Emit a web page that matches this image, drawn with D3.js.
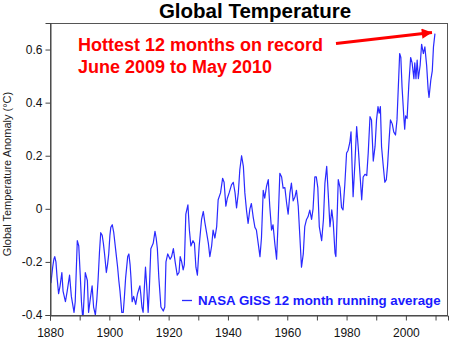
<!DOCTYPE html>
<html><head><meta charset="utf-8">
<script src="https://cdn.jsdelivr.net/npm/d3@7"></script>
<style>body{margin:0;background:#fff}svg{display:block}text{font-family:"Liberation Sans",Arial,sans-serif}</style>
</head><body><svg id="c" width="450" height="340"></svg>
<script>
const years = [1880.3,1880.9,1881.3,1881.6,1882.0,1882.4,1882.9,1883.4,1884.0,1884.4,1885.2,1885.8,1886.6,1887.2,1888.1,1888.5,1889.2,1889.7,1890.2,1890.6,1891.1,1891.5,1891.9,1892.6,1893.0,1893.7,1894.2,1894.7,1895.3,1895.8,1896.2,1896.7,1897.1,1897.6,1898.0,1898.4,1899.0,1899.4,1899.8,1900.2,1900.5,1901.0,1901.5,1901.9,1902.4,1902.8,1903.2,1903.6,1904.2,1904.7,1905.1,1905.5,1906.2,1906.6,1907.0,1907.3,1907.7,1908.2,1908.9,1909.5,1910.3,1910.6,1911.0,1911.4,1911.8,1912.2,1912.6,1913.1,1913.5,1914.0,1914.8,1915.4,1915.8,1916.2,1916.7,1917.4,1918.2,1918.7,1919.1,1919.7,1920.5,1921.0,1921.6,1922.2,1922.9,1923.5,1923.9,1924.4,1924.9,1925.3,1925.8,1926.5,1927.0,1927.5,1928.2,1928.7,1929.2,1929.7,1930.3,1931.1,1931.7,1932.2,1932.8,1933.4,1933.9,1934.5,1935.0,1935.6,1936.2,1936.7,1937.5,1938.2,1938.7,1939.3,1939.8,1940.4,1941.2,1941.8,1942.4,1942.9,1943.5,1944.0,1944.6,1945.2,1945.7,1946.3,1946.8,1947.4,1947.9,1948.5,1949.1,1949.6,1950.2,1950.8,1951.3,1951.9,1952.4,1953.0,1953.6,1954.1,1954.7,1955.2,1955.8,1956.4,1956.9,1957.5,1958.1,1958.6,1959.2,1959.8,1960.3,1960.9,1961.4,1962.0,1962.6,1963.1,1963.7,1964.3,1964.8,1965.4,1965.9,1966.5,1967.0,1967.6,1968.2,1968.7,1969.3,1969.8,1970.3,1970.8,1971.6,1972.2,1972.7,1973.3,1973.8,1974.4,1975.0,1975.5,1976.1,1976.4,1977.2,1977.8,1978.3,1978.8,1979.4,1980.0,1980.5,1981.1,1981.5,1981.9,1982.2,1982.8,1983.4,1984.0,1984.5,1985.1,1985.6,1986.2,1986.8,1987.3,1987.9,1988.4,1989.0,1989.6,1990.1,1990.6,1991.0,1991.4,1991.8,1992.3,1992.9,1993.4,1993.8,1994.4,1994.8,1995.4,1995.9,1996.5,1997.0,1997.6,1997.9,1998.3,1998.7,1999.3,1999.6,1999.9,2000.4,2001.0,2001.6,2002.1,2002.7,2003.0,2003.4,2003.8,2004.2,2004.8,2005.3,2005.9,2006.4,2007.0,2007.5,2007.8,2008.4,2008.9,2009.3,2009.8];
const anomaly = [-0.28,-0.22,-0.19,-0.18,-0.20,-0.26,-0.32,-0.29,-0.24,-0.31,-0.35,-0.31,-0.25,-0.33,-0.39,-0.35,-0.12,-0.14,-0.25,-0.35,-0.42,-0.33,-0.24,-0.27,-0.39,-0.33,-0.29,-0.37,-0.40,-0.34,-0.27,-0.16,-0.09,-0.10,-0.13,-0.17,-0.24,-0.21,-0.17,-0.10,-0.07,-0.06,-0.09,-0.13,-0.18,-0.22,-0.27,-0.31,-0.39,-0.39,-0.33,-0.26,-0.18,-0.17,-0.21,-0.26,-0.35,-0.33,-0.36,-0.32,-0.29,-0.32,-0.37,-0.39,-0.30,-0.22,-0.29,-0.39,-0.30,-0.15,-0.13,-0.085,-0.11,-0.15,-0.26,-0.37,-0.385,-0.37,-0.20,-0.17,-0.19,-0.18,-0.15,-0.20,-0.25,-0.24,-0.18,-0.20,-0.23,-0.21,-0.02,0.015,-0.08,-0.14,-0.12,-0.13,-0.22,-0.25,-0.14,-0.04,-0.01,-0.05,-0.09,-0.13,-0.18,-0.14,-0.08,-0.11,-0.067,0.034,0.06,0.115,0.10,0.01,0.04,0.06,0.09,0.10,0.06,0.003,0.06,0.147,0.20,0.16,0.06,-0.01,-0.055,0.0,0.02,-0.03,-0.07,-0.08,-0.13,-0.18,-0.11,0.07,0.04,0.084,0.11,0.01,-0.08,-0.06,-0.13,-0.19,-0.054,0.134,0.12,0.078,0.08,0.02,-0.02,0.06,0.097,0.03,0.045,0.07,0.01,-0.115,-0.22,-0.17,-0.067,-0.04,-0.03,-0.005,-0.04,0.0,0.12,0.12,0.08,-0.067,-0.12,-0.04,0.097,0.16,0.06,-0.067,-0.004,-0.05,-0.167,-0.18,0.11,0.08,0.005,-0.004,0.09,0.21,0.22,0.25,0.29,0.147,0.046,0.17,0.31,0.22,0.134,0.034,0.12,0.13,0.125,0.21,0.347,0.335,0.18,0.235,0.335,0.385,0.36,0.385,0.234,0.17,0.10,0.11,0.16,0.27,0.335,0.32,0.29,0.278,0.335,0.50,0.585,0.57,0.46,0.347,0.30,0.35,0.34,0.47,0.57,0.55,0.49,0.55,0.49,0.56,0.49,0.54,0.62,0.585,0.61,0.54,0.45,0.42,0.485,0.52,0.61,0.66];
const yTicks = [-0.4,-0.2,0,0.2,0.4,0.6];
const yTickLabels = ["-0.4","-0.2","0","0.2","0.4","0.6"];
const xTicks = [1880,1890,1900,1910,1920,1930,1940,1950,1960,1970,1980,1990,2000,2010];
const xTickLabels = ["1880","","1900","","1920","","1940","","1960","","1980","","2000",""];
const titleText = "Global Temperature";
const yLabel = "Global Temperature Anomaly (\u00B0C)";
const noteLines = ["Hottest 12 months on record","June 2009 to May 2010"];
const legendText = "NASA GISS 12 month running average";

const svg = d3.select("#c");
const L=50,R=448,T=23,B=315;
const x = d3.scaleLinear().domain([1880,2014.2]).range([L,R]);
const y = d3.scaleLinear().domain([-0.4,0.7]).range([B,T]);

svg.append("clipPath").attr("id","clip").append("rect").attr("x",L).attr("y",T).attr("width",R-L).attr("height",B-T);

const data = years.map((yr,i)=>({yr,v:anomaly[i]}));
svg.append("path").datum(data).attr("clip-path","url(#clip)")
  .attr("fill","none").attr("stroke","#2a2aff").attr("stroke-width",1.2).attr("stroke-linejoin","round")
  .attr("d",d3.line().x(d=>x(d.yr)).y(d=>y(d.v)));

// frame
svg.append("rect").attr("x",L+0.5).attr("y",T+0.5).attr("width",R-L-1).attr("height",B-T)
  .attr("fill","none").attr("stroke","#555").attr("stroke-width",1);

const yAxis = svg.append("g").attr("transform",`translate(${L+0.5},0)`)
  .call(d3.axisLeft(y).tickValues(yTicks).tickSize(5).tickPadding(3).tickFormat((d,i)=>yTickLabels[i]));
const xAxis = svg.append("g").attr("transform",`translate(0,${B+0.5})`)
  .call(d3.axisBottom(x).tickValues(xTicks).tickSize(5).tickPadding(8).tickFormat((d,i)=>xTickLabels[i]));
[yAxis,xAxis].forEach(g=>{
  g.select(".domain").attr("stroke","#444");
  g.selectAll(".tick line").attr("stroke","#444");
  g.selectAll("text").attr("font-size",12).attr("fill","#111").style("font-family","'Liberation Sans',Arial,sans-serif");
});

svg.append("text").attr("x",255).attr("y",18).attr("text-anchor","middle")
  .attr("font-size",20.5).attr("font-weight","bold").attr("fill","#000").text(titleText);

svg.append("text").attr("transform","translate(11,174) rotate(-90)").attr("text-anchor","middle")
  .attr("font-size",11).attr("fill","#222").text(yLabel);

noteLines.forEach((t,i)=>svg.append("text").attr("x",78).attr("y",50.5+i*22)
  .attr("font-size",18).attr("font-weight","bold").attr("fill","#f00").text(t));

// arrow
svg.append("defs").append("marker").attr("id","ah").attr("viewBox","0 0 10 10").attr("refX",10).attr("refY",5)
  .attr("markerWidth",5.5).attr("markerHeight",3.4).attr("orient","auto").attr("markerUnits","strokeWidth")
  .append("path").attr("d","M0,0L10,5L0,10z").attr("fill","#f00");
svg.append("line").attr("x1",336).attr("y1",43.5).attr("x2",432).attr("y2",32.5)
  .attr("stroke","#f00").attr("stroke-width",3).attr("marker-end","url(#ah)");

// legend
svg.append("line").attr("x1",182).attr("x2",192).attr("y1",300.5).attr("y2",300.5).attr("stroke","#2a2aff").attr("stroke-width",1.3);
svg.append("text").attr("x",198).attr("y",304.5).attr("font-size",13.3).attr("font-weight","bold").attr("fill","#1a1aff").text(legendText);
</script></body></html>
